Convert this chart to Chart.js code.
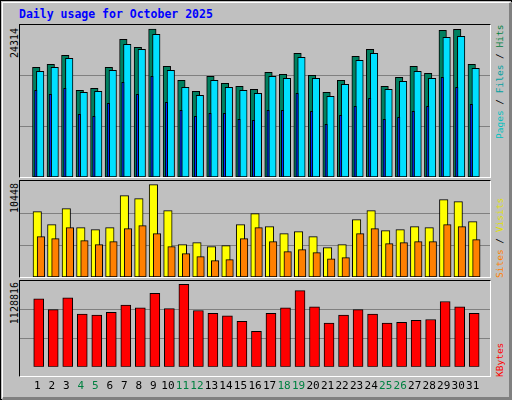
<!DOCTYPE html>
<html><head><meta charset="utf-8">
<script src="https://cdn.jsdelivr.net/npm/chart.js@4/dist/chart.umd.min.js"></script>
<style>
html,body{margin:0;padding:0;background:#fff;}
#frame{position:absolute;left:0;top:0;width:512px;height:400px;box-sizing:border-box;border:1px solid #000;background:#C0C0C0;}
#inner{position:absolute;left:1px;top:1px;width:506px;height:394px;border-top:1px solid #fff;border-left:1px solid #fff;border-right:3px solid #808080;border-bottom:3px solid #808080;}
.t{position:absolute;font-family:"DejaVu Sans Mono",monospace;white-space:nowrap;}
.v{writing-mode:vertical-rl;transform:rotate(180deg);line-height:11px;}
canvas{position:absolute;}
.box{position:absolute;border-top:1px solid #000;border-left:1px solid #000;border-right:1px solid #fff;border-bottom:1px solid #fff;box-sizing:border-box;}
</style></head><body>
<div id="frame"><div id="inner"></div></div>
<div class="t" style="left:19px;top:7px;font-size:11.5px;font-weight:bold;color:#0000FF;">Daily usage for October 2025</div>
<div class="box" style="left:19px;top:24px;width:472px;height:154px;"></div>
<div class="box" style="left:19px;top:180px;width:472px;height:98px;"></div>
<div class="box" style="left:19px;top:280px;width:472px;height:97px;"></div>
<canvas id="c1" width="470" height="152" style="left:20px;top:25px;"></canvas>
<canvas id="c2" width="470" height="96" style="left:20px;top:181px;"></canvas>
<canvas id="c3" width="470" height="117" style="left:20px;top:281px;"></canvas>
<div class="t v" style="left:9px;top:28px;font-size:10px;color:#000;">24314</div>
<div class="t v" style="left:9px;top:183px;font-size:10px;color:#000;">10448</div>
<div class="t v" style="left:9px;top:282px;font-size:10px;color:#000;">1128816</div>
<div class="t v" style="left:494px;top:29px;height:110px;font-size:9.5px;"><span style="color:#00C0C0">Pages</span><span style="color:#000"> / </span><span style="color:#00A0A0">Files</span><span style="color:#000"> / </span><span style="color:#008040">Hits</span></div>
<div class="t v" style="left:494px;top:198px;height:80px;font-size:9.5px;"><span style="color:#FF8000">Sites</span><span style="color:#000"> / </span><span style="color:#E0E000">Visits</span></div>
<div class="t v" style="left:494px;top:339px;height:38px;font-size:9.5px;color:#FF0000;">KBytes</div>
<script>
const days = Array.from({length:31},(_,i)=>i+1);
const weekendDays = [4,5,11,12,18,19,25,26];
const hits = [18030,18520,20000,14250,14580,18030,22630,21320,24314,18190,15890,14080,16550,15400,14910,14410,17210,16880,20330,16710,13920,15890,19840,20990,14910,16390,18190,17040,24110,24280,18520];
const files = [17370,18030,19510,13920,14080,17540,21810,20990,23450,17540,14740,13430,15890,14740,14250,13750,16550,16220,19670,16220,13260,15230,19180,20330,14410,15730,17370,16220,22960,23130,17860];
const pages = [14250,13590,14580,10300,9970,12110,15560,13590,16550,12270,10960,9970,10470,10470,9480,9320,10960,10960,13750,10800,8660,10140,11620,12930,9480,9810,10800,11620,16390,14740,11950];
const visits = [7390,5920,7730,5580,5360,5580,9200,8860,10448,7510,3660,3890,3430,3550,5920,7170,5700,4900,5130,4560,3320,3660,6490,7510,5240,5360,5700,5580,8750,8520,6260];
const sites = [4560,4340,5580,4110,3660,4000,5470,5810,4900,3430,2640,2300,1850,1960,4340,5580,4000,2870,3090,2750,2070,2190,4900,5470,3770,3890,4000,4000,5920,5700,4220];
const kbytes = [930900,782600,943300,720800,708500,745500,844400,807300,1005000,795000,1128816,770300,733200,696100,622000,486000,733200,807300,1042100,819700,597300,708500,782600,720800,597300,609600,634300,646700,893800,819700,733200];

Chart.defaults.font.family = "DejaVu Sans Mono, monospace";
function pts(vals, off){ return vals.map((v,i)=>({x:days[i]+off,y:v})); }
function ds(vals, off, color, w, order){
  return {data:pts(vals,off),backgroundColor:color,borderColor:'#000',borderWidth:1,barThickness:w,grouped:false,order:order,borderSkipped:false};
}
function make(id, datasets, ymax, showX){
  new Chart(document.getElementById(id),{
    type:'bar',
    data:{datasets},
    options:{
      responsive:false,animation:false,devicePixelRatio:1,
      layout:{padding:0},
      plugins:{legend:{display:false},tooltip:{enabled:false}},
      scales:{
        x:{type:'linear',min:0.333,max:31.667,display:showX,
           grid:{display:false},border:{display:false},
           afterBuildTicks:(a)=>{a.ticks=days.map(d=>({value:d}));},
           ticks:{autoSkip:false,maxRotation:0,padding:5,font:{size:11},
             color:(c)=>weekendDays.includes(c.tick.value)?'#008040':'#000',
             callback:(v)=>String(v)}},
        y:{min:0,max:ymax,display:true,
           afterBuildTicks:(a)=>{a.ticks=[{value:ymax/3},{value:2*ymax/3}];},
           ticks:{display:false},border:{display:false},
           grid:{color:'#808080',lineWidth:1,drawTicks:false}}
      }
    }
  });
}
make('c1',[ds(hits,-0.07,'#008060',7.5,2),ds(files,0.2,'#00E0FF',7.5,1),ds(pages,-0.1,'#0030FF',2.5,0)],25000,false);
make('c2',[ds(visits,0,'#FFFF00',8.5,1),ds(sites,0.25,'#FF8000',7.5,0)],10862,false);
make('c3',[ds(kbytes,0.1,'#FF0000',10,0)],1174000,true);
</script>
</body></html>
